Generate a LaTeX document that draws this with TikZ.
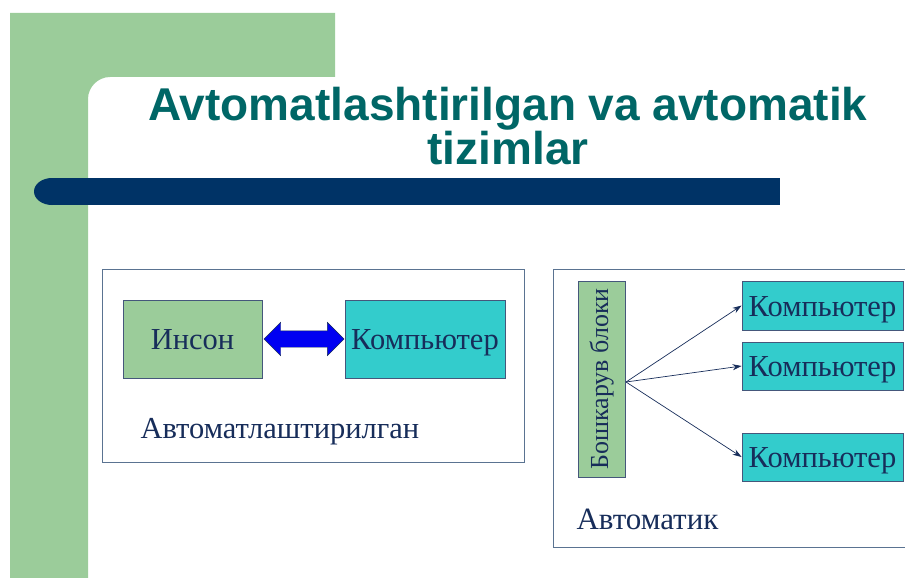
\documentclass[tikz,border=0pt]{standalone}
\usepackage{fontspec}
\setmainfont{Liberation Serif}
\newfontfamily\titlefont{Liberation Sans}
\usetikzlibrary{positioning,shapes.arrows,arrows.meta}
\definecolor{slidegreen}{RGB}{155,204,154}
\definecolor{slidecyan}{RGB}{51,204,204}
\definecolor{slidenavy}{RGB}{0,51,102}
\definecolor{slideteal}{RGB}{0,102,102}
\definecolor{textnavy}{RGB}{23,45,90}
\definecolor{framegray}{RGB}{90,115,145}
\tikzset{
  greenbox/.style={draw=textnavy!80, fill=slidegreen, line width=0.8pt},
  compbox/.style={draw=textnavy!80, fill=slidecyan, line width=0.8pt,
    text=textnavy, font=\fontsize{30.5}{30}\selectfont, inner sep=0pt,
    text height=25pt, text depth=4pt},
  framebox/.style={draw=framegray, line width=0.8pt},
  link/.style={-{Stealth[length=9pt,width=6pt]}, textnavy, line width=0.7pt}
}
\begin{document}
\begin{tikzpicture}[x=1pt,y=-1pt]
  \useasboundingbox (0,0) rectangle (905,578);
  % green corner band
  \fill[slidegreen] (10,13) -- (335,13) -- (335,77) -- (110,77)
    .. controls (98,77) and (88,87) .. (88,99) -- (88,578) -- (10,578) -- cycle;
  % title bar
  \fill[slidenavy] (72,178) rectangle (780,205);
  \fill[slidenavy] (52,191.5) ellipse[x radius=18, y radius=13.5];
  \fill[slidenavy] (52,178) rectangle (73,205);
  \node[font=\titlefont\bfseries\fontsize{46}{42}\selectfont, text=slideteal, align=center]
    (title) at (508,126) {Avtomatlashtirilgan va avtomatik\\tizimlar};

  % left panel
  \draw[framebox] (102,269) rectangle (524,462);
  \node[greenbox, minimum width=139, minimum height=78, text=textnavy, inner sep=0pt,
    text height=25pt, text depth=4pt,
    font=\fontsize{30.5}{30}\selectfont] (inson) at (192.5,339) {Инсон};
  \node[compbox, minimum width=160, minimum height=78] (comp) at (425,339) {Компьютер};
  \node[double arrow, draw=textnavy, fill=blue!95!black, inner xsep=0pt, inner ysep=8pt,
    double arrow head extend=8.5pt, minimum height=80] (arr) at (304,339) {};
  \node[text=textnavy, font=\fontsize{30.5}{30}\selectfont, anchor=west]
    (auto1) at (137,432) {Автоматлаштирилган};

  % right panel
  \draw[framebox] (905,269) -- (553,269) -- (553,547) -- (905,547);
  \node[greenbox, minimum width=47, minimum height=196, inner sep=0pt] (blok) at (601.5,379) {};
  \node[rotate=90, text=textnavy, font=\fontsize{26}{26}\selectfont] at (blok.center) {Бошкарув блоки};
  \coordinate (src) at (626,382);
  \node[compbox, minimum width=161, minimum height=49] (c1) at (822.5,305.5) {Компьютер};
  \node[compbox, minimum width=161, minimum height=48] (c2) at (822.5,366) {Компьютер};
  \node[compbox, minimum width=161, minimum height=48] (c3) at (822.5,457) {Компьютер};
  \foreach \c in {c1,c2,c3}
    \draw[link] (src) -- (\c.west);
  \node[text=textnavy, font=\fontsize{31}{31}\selectfont, anchor=west]
    (auto2) at (573,519) {Автоматик};
\end{tikzpicture}
\end{document}
